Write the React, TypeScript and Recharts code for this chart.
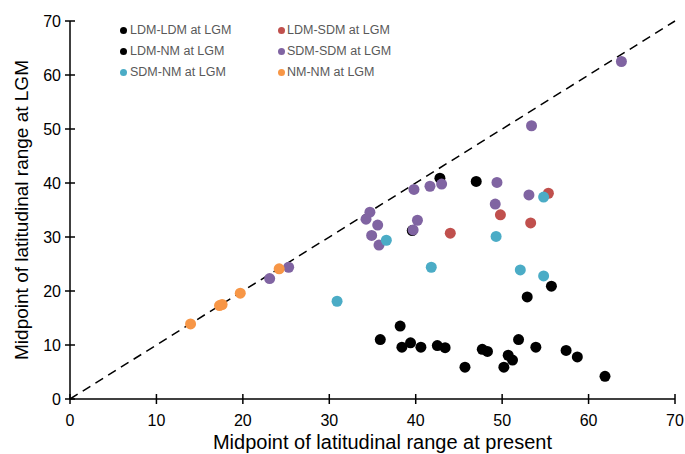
import React from 'react';
import { ScatterChart, Scatter, XAxis, YAxis, ReferenceLine, Label } from 'recharts';

const xTicks = [0, 10, 20, 30, 40, 50, 60, 70];
const yTicks = [0, 10, 20, 30, 40, 50, 60, 70];

const ldmLdm: [number, number][] = [
  [42.8, 40.9], [39.6, 31.2], [47.0, 40.3], [52.9, 18.9], [55.7, 20.9],
];
const ldmNm: [number, number][] = [
  [38.2, 13.5], [35.9, 11.0], [38.4, 9.6], [39.4, 10.4], [40.6, 9.6], [42.5, 9.9],
  [43.4, 9.5], [45.7, 5.9], [47.7, 9.2], [48.3, 8.8], [51.9, 11.0], [50.7, 8.1],
  [51.2, 7.2], [50.2, 5.9], [53.9, 9.6], [57.4, 9.0], [58.7, 7.8], [61.9, 4.2],
];
const ldmSdm: [number, number][] = [
  [44.0, 30.7], [49.8, 34.1], [53.3, 32.6], [55.35, 38.1],
];
const sdmSdm: [number, number][] = [
  [43.0, 39.8], [41.65, 39.4], [39.8, 38.8], [34.7, 34.6], [34.25, 33.3], [35.6, 32.2],
  [40.2, 33.1], [39.7, 31.3], [34.9, 30.3], [35.75, 28.5], [49.4, 40.1], [53.1, 37.8],
  [49.2, 36.1], [53.4, 50.6], [63.8, 62.5], [23.1, 22.3], [25.3, 24.4],
];
const sdmNm: [number, number][] = [
  [36.6, 29.4], [41.8, 24.4], [54.8, 37.4], [49.3, 30.1], [52.1, 23.9], [54.8, 22.8], [30.9, 18.1],
];
const nmNm: [number, number][] = [
  [13.95, 13.9], [17.3, 17.3], [17.6, 17.5], [19.7, 19.6], [24.2, 24.1],
];

const legendNames = [
  'LDM-LDM at LGM', 'LDM-SDM at LGM',
  'LDM-NM at LGM', 'SDM-SDM at LGM',
  'SDM-NM at LGM', 'NM-NM at LGM',
];
const legendColors = ['#000000', '#c0504d', '#000000', '#8064a2', '#4bacc6', '#f79646'];

const seriesData = [ldmLdm, ldmNm, ldmSdm, sdmSdm, sdmNm, nmNm];
const seriesColors = ['#000000', '#000000', '#c0504d', '#8064a2', '#4bacc6', '#f79646'];
const seriesNames = ['LDM-LDM at LGM', 'LDM-NM at LGM', 'LDM-SDM at LGM', 'SDM-SDM at LGM', 'SDM-NM at LGM', 'NM-NM at LGM'];

const FONT = '"Liberation Sans", Arial, Helvetica, sans-serif';
const TICK_SIZE = 5;

const XTick = (props: any) => {
  const { x, y, payload } = props;
  const axisY = y - TICK_SIZE;
  return (
    <g>
      <line x1={x} x2={x} y1={axisY - 5} y2={axisY + 5} stroke="#000" strokeWidth={1.5} />
      <text x={x} y={axisY + 27} textAnchor="middle" fontSize={16} fill="#000" fontFamily={FONT}>
        {payload.value}
      </text>
    </g>
  );
};

const YTick = (props: any) => {
  const { x, y, payload } = props;
  const axisX = x + TICK_SIZE;
  return (
    <g>
      <line x1={axisX - 5} x2={axisX + 5} y1={y} y2={y} stroke="#000" strokeWidth={1.5} />
      <text x={axisX - 9} y={y + 6} textAnchor="end" fontSize={16} fill="#000" fontFamily={FONT}>
        {payload.value}
      </text>
    </g>
  );
};

const Dot = (color: string) => (props: any) => {
  const { cx, cy } = props;
  if (cx == null || cy == null) return <g />;
  return <circle cx={cx} cy={cy} r={5.5} fill={color} />;
};

const XTitle = (props: any) => {
  const vb = props.viewBox || { x: 70, y: 399, width: 605, height: 55 };
  return (
    <text x={vb.x + vb.width / 2 + 10} y={vb.y + 50} textAnchor="middle" fontSize={20} fill="#000" fontFamily={FONT}>
      Midpoint of latitudinal range at present
    </text>
  );
};

const YTitle = (props: any) => {
  const vb = props.viewBox || { x: 0, y: 21, width: 70, height: 378 };
  const cx = vb.x + 28;
  const cy = vb.y + vb.height / 2;
  return (
    <text x={cx} y={cy} transform={`rotate(-90, ${cx}, ${cy})`} textAnchor="middle" fontSize={19} fill="#000" fontFamily={FONT}>
      Midpoint of latitudinal range at LGM
    </text>
  );
};

export default function App() {
  return (
    <div style={{ position: 'absolute', left: 0, top: 0, width: 685, height: 454, background: '#fff' }}>
      <ScatterChart width={685} height={454} margin={{ top: 21, right: 10, left: 0, bottom: 0 }}>
        <XAxis
          type="number"
          dataKey="x"
          domain={[0, 70]}
          ticks={xTicks}
          height={55}
          tickSize={TICK_SIZE}
          tickMargin={0}
          tickLine={false}
          tick={<XTick />}
          axisLine={{ stroke: '#000', strokeWidth: 1.5 }}
          allowDataOverflow
        >
          <Label content={<XTitle />} />
        </XAxis>
        <YAxis
          type="number"
          dataKey="y"
          domain={[0, 70]}
          ticks={yTicks}
          width={70}
          tickSize={TICK_SIZE}
          tickMargin={0}
          tickLine={false}
          tick={<YTick />}
          axisLine={{ stroke: '#000', strokeWidth: 1.5 }}
          allowDataOverflow
        >
          <Label content={<YTitle />} />
        </YAxis>
        {seriesData.map((d, i) => (
          <Scatter
            key={seriesNames[i]}
            name={seriesNames[i]}
            data={d.map(([x, y]) => ({ x, y }))}
            fill={seriesColors[i]}
            shape={Dot(seriesColors[i])}
            isAnimationActive={false}
          />
        ))}
        <ReferenceLine
          segment={[{ x: 0, y: 0 }, { x: 70, y: 70 }]}
          stroke="#000"
          strokeWidth={1.5}
          strokeDasharray="9 6"
          ifOverflow="visible"
        />
      </ScatterChart>
      {legendNames.map((name, i) => {
        const col = i % 2;
        const row = Math.floor(i / 2);
        const cy = 30 + row * 21;
        const dotX = col === 0 ? 123 : 281;
        const textX = col === 0 ? 130 : 287;
        return (
          <React.Fragment key={name}>
            <div
              style={{
                position: 'absolute',
                left: dotX - 3.5,
                top: cy - 3.5,
                width: 7,
                height: 7,
                borderRadius: '50%',
                background: legendColors[i],
              }}
            />
            <div
              style={{
                position: 'absolute',
                left: textX,
                top: cy - 8,
                height: 16,
                lineHeight: '16px',
                fontSize: 12.5,
                fontFamily: FONT,
                color: '#595959',
                whiteSpace: 'nowrap',
              }}
            >
              {name}
            </div>
          </React.Fragment>
        );
      })}
    </div>
  );
}
